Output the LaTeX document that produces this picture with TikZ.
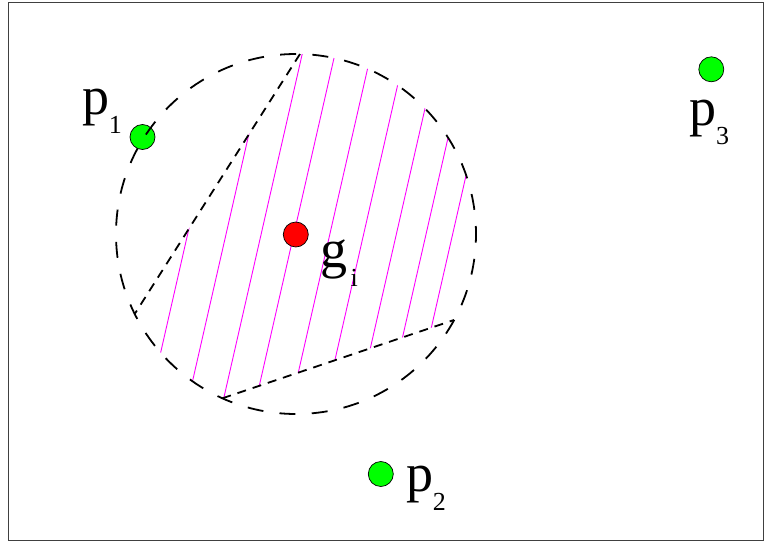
\documentclass[tikz,border=0pt]{standalone}
\usepackage{fontspec}
\setmainfont{Liberation Serif}
\newcommand{\lab}[3]{{\fontsize{54}{54}\selectfont #1}\kern#3pt\raisebox{-19pt}{\fontsize{26}{26}\selectfont #2}}
\definecolor{pgreen}{RGB}{0,255,0}
\definecolor{pred}{RGB}{255,0,0}
\definecolor{pmag}{RGB}{255,0,255}
\tikzset{
  frame/.style={draw=black!75, line width=1pt},
  dot/.style={circle, draw=black, line width=0.7pt, minimum size=25pt, inner sep=0pt, outer sep=0pt},
  gdot/.style={dot, fill=pgreen},
  rdot/.style={dot, fill=pred},
  lbl/.style={anchor=base west, inner sep=0pt, outer sep=0pt, text=black},
  bigcircle/.style={draw=black, line width=1.8pt, dash pattern=on 16pt off 16.3pt, dash phase=8pt},
  chord/.style={draw=black, line width=1.8pt, dash pattern=on 9pt off 7pt},
  hatchline/.style={draw=pmag, line width=0.9pt}
}
\begin{document}
\begin{tikzpicture}[x=1pt,y=-1pt]
\useasboundingbox (0,0) rectangle (764,541);
\draw[frame] (8.5,2) rectangle (763.5,540);

\coordinate (C) at (296,234);
\coordinate (T) at (300,54);
\coordinate (L) at (135,313.5);
\coordinate (B) at (222.3,398.3);
\coordinate (R) at (454,320);

% hatched region
\begin{scope}
  \clip (C) circle (180pt);
  \clip (T) -- (L) -- (60,480) -- (B) -- (R) -- (600,380) -- (600,0) -- (300,0) -- cycle;
  \foreach \x in {200,238.4,273.5,306.2,342.2,376,408.7,438.4,465}
    \draw[hatchline] ({\x+31.92},40) -- ({\x-54.72},420);
\end{scope}

% points
\node[rdot] (g) at (295.8,234.5) {};
\node[gdot] (p1) at (142.5,137) {};
\node[gdot] (p2) at (380.8,474) {};
\node[gdot] (p3) at (711.3,69.3) {};

% chords and circle
\draw[chord] (T) -- (L);
\draw[chord] (B) -- (R);
\draw[bigcircle] (C) circle (180pt);

% labels
\node[lbl] (lp1) at (82.3,114) {\lab{p}{1}{-0.5}};
\node[lbl] (lp2) at (406.3,491.5) {\lab{p}{2}{-0.5}};
\node[lbl] (lp3) at (689.5,125) {\lab{p}{3}{-0.5}};
\node[lbl] (lg) at (320.5,267) {\lab{g}{i}{3}};
\end{tikzpicture}
\end{document}
